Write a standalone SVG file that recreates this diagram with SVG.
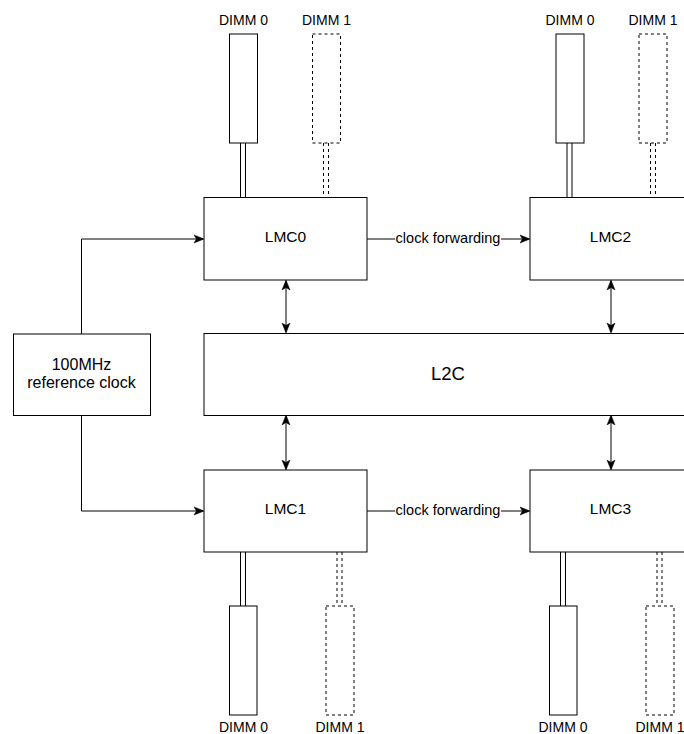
<svg xmlns="http://www.w3.org/2000/svg" width="684" height="734" viewBox="0 0 684 734">
<style>
.box{fill:#fff;stroke:#000;stroke-width:1}
.dbox{fill:#fff;stroke:#000;stroke-width:1;stroke-dasharray:3 3}
.ln{fill:none;stroke:#000;stroke-width:1}
.dln{fill:none;stroke:#000;stroke-width:1;stroke-dasharray:3 3}
text{font-family:"Liberation Sans",Arial,sans-serif;fill:#000;text-anchor:middle;dominant-baseline:central}
.dimm{font-size:14px}
.cf{font-size:14.5px}
.lmc{font-size:15.5px}
.rc{font-size:16px}
.big{font-size:18.5px}
</style>
<defs>
<marker id="arr" viewBox="0 0 10 10" refX="9" refY="5" markerWidth="10" markerHeight="10" markerUnits="userSpaceOnUse" orient="auto-start-reverse">
<path d="M0,1 L10,5 L0,9 L2.5,5 Z" fill="#000" stroke="#000" stroke-width="0.5"/>
</marker>
</defs>
<rect width="684" height="734" fill="#fff"/>
<g id="connectors">
<path class="ln" d="M81.5,334 V239 H203" marker-end="url(#arr)"/>
<path class="ln" d="M81.5,415 V511 H203" marker-end="url(#arr)"/>
<path class="ln" d="M367,239 H529" marker-end="url(#arr)"/>
<rect x="395" y="230" width="106" height="17" fill="#fff"/>
<text class="cf" x="448" y="238">clock forwarding</text>
<path class="ln" d="M367,511 H529" marker-end="url(#arr)"/>
<rect x="395" y="502" width="106" height="17" fill="#fff"/>
<text class="cf" x="448" y="510">clock forwarding</text>
<path class="ln" d="M286,281 V332" marker-start="url(#arr)" marker-end="url(#arr)"/>
<path class="ln" d="M611,281 V332" marker-start="url(#arr)" marker-end="url(#arr)"/>
<path class="ln" d="M286,416 V469" marker-start="url(#arr)" marker-end="url(#arr)"/>
<path class="ln" d="M611,416 V469" marker-start="url(#arr)" marker-end="url(#arr)"/>
<path class="ln" d="M240.5,143 V197 M245.5,143 V197"/>
<path class="dln" d="M323.5,143 V197 M328.5,143 V197"/>
<path class="ln" d="M567,143 V197 M572,143 V197"/>
<path class="dln" d="M650.5,143 V197 M655.5,143 V197"/>
<path class="ln" d="M240.5,552 V606 M245.5,552 V606"/>
<path class="dln" d="M337,552 V606 M342,552 V606"/>
<path class="ln" d="M560.5,552 V606 M565.5,552 V606"/>
<path class="dln" d="M657,552 V606 M662,552 V606"/>
</g>
<g id="refclk">
<rect class="box" x="13.5" y="334" width="137" height="81.5"/>
<text class="rc" x="81.5" y="364">100MHz</text>
<text class="rc" x="81.5" y="382">reference clock</text>
</g>
<g id="lmc0">
<rect class="box" x="204" y="197.5" width="163" height="82.5"/>
<text class="lmc" x="285.5" y="236.5">LMC0</text>
</g>
<g id="lmc2">
<rect class="box" x="530" y="197.5" width="163" height="82.5"/>
<text class="lmc" x="610.5" y="236.5">LMC2</text>
</g>
<g id="l2c">
<rect class="box" x="204" y="333.5" width="488" height="82"/>
<text class="big" x="448" y="373.5">L2C</text>
</g>
<g id="lmc1">
<rect class="box" x="204" y="470" width="163" height="82"/>
<text class="lmc" x="285.5" y="508.5">LMC1</text>
</g>
<g id="lmc3">
<rect class="box" x="530" y="470" width="163" height="82"/>
<text class="lmc" x="610.5" y="508.5">LMC3</text>
</g>
<g id="dimm0-top-left">
<rect class="box" x="229.5" y="34" width="28" height="109"/>
<text class="dimm" x="243.5" y="20">DIMM 0</text>
</g>
<g id="dimm1-top-left">
<rect class="dbox" x="312.5" y="34" width="28" height="109"/>
<text class="dimm" x="326.5" y="20">DIMM 1</text>
</g>
<g id="dimm0-top-right">
<rect class="box" x="556" y="34" width="28" height="109"/>
<text class="dimm" x="570" y="20">DIMM 0</text>
</g>
<g id="dimm1-top-right">
<rect class="dbox" x="639" y="34" width="28" height="109"/>
<text class="dimm" x="653" y="20">DIMM 1</text>
</g>
<g id="dimm0-bottom-left">
<rect class="box" x="229.5" y="606" width="27.5" height="109"/>
<text class="dimm" x="243.5" y="726.5">DIMM 0</text>
</g>
<g id="dimm1-bottom-left">
<rect class="dbox" x="326" y="606" width="28" height="109"/>
<text class="dimm" x="340" y="726.5">DIMM 1</text>
</g>
<g id="dimm0-bottom-right">
<rect class="box" x="549.5" y="606" width="27.5" height="109"/>
<text class="dimm" x="563" y="726.5">DIMM 0</text>
</g>
<g id="dimm1-bottom-right">
<rect class="dbox" x="646" y="606" width="28" height="109"/>
<text class="dimm" x="660" y="726.5">DIMM 1</text>
</g>
</svg>
